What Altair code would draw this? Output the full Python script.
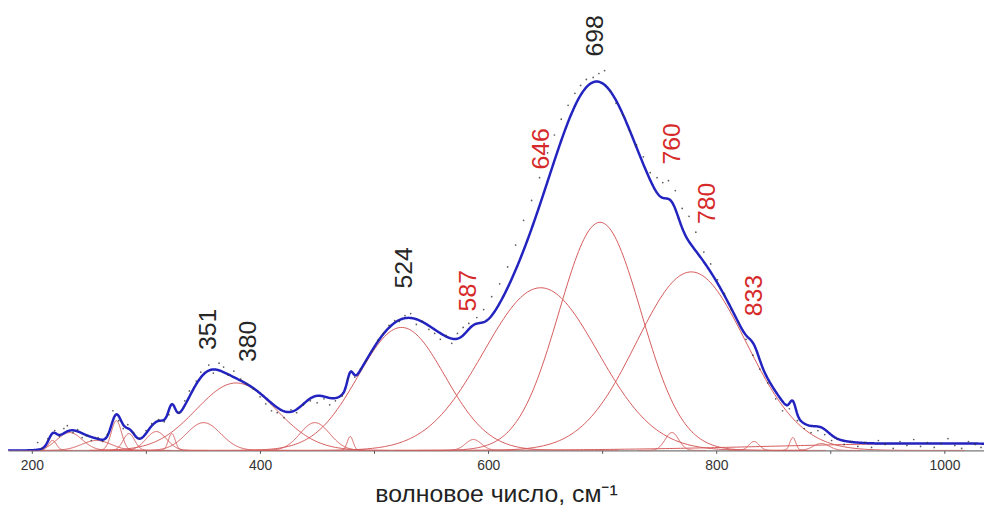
import altair as alt
import numpy as np
import pandas as pd

alt.data_transformers.disable_max_rows()

# ---- fitted components ----
# centre (cm-1), height (intensity units above baseline), gaussian width sigma (cm-1)
peak_centers = [218, 233, 256.5, 274, 285, 309, 322.6, 350.5, 379, 448, 479, 524, 587,
                646, 698, 761, 778, 833, 867, 892, 1000]
peak_heights = [10, 18, 10, 30, 17, 19, 17, 28, 68, 28, 14, 124, 11,
                164, 230, 18, 180, 9, 13, 7, 7]
peak_sigmas = [3.5, 11, 13, 4.5, 5, 9, 3, 15, 35, 13, 2.6, 38, 7,
               50, 36, 6, 48, 4.5, 2.6, 7, 150]

# ---- measured points (black dots) ----
dot_x = [205, 209, 214, 220, 224, 228, 231, 236, 240, 244, 248, 252, 258, 262, 266, 271, 276,
         280, 284, 289, 294, 300, 305, 311, 316, 320, 329, 334, 338, 344, 348, 355, 359, 364,
         368, 372, 377, 383, 388, 394, 400, 405, 410, 415, 421, 427, 432, 438, 444, 450, 456,
         461, 466, 472, 477, 483, 488, 493, 498, 503, 508, 513, 518, 522, 527, 532, 537, 542,
         548, 553, 558, 563, 568, 573, 578, 583, 590, 596, 603, 610, 617, 624, 631, 638, 645,
         652, 658, 664, 670, 676, 681, 686, 692, 697, 702, 707, 712, 718, 724, 730, 736, 742,
         748, 753, 758, 764, 770, 776, 782, 789, 795, 801, 807, 813, 820, 826, 832, 838, 845,
         852, 858, 864, 871, 877, 883, 889, 895, 901, 906, 912, 918, 924, 930, 936, 942, 948,
         955, 961, 967, 973, 979, 985, 991, 997, 1003, 1009, 1015, 1021, 1027, 1032]
dot_y = [8, 2, 12, 20, 14, 22, 25, 18, 21, 13, 15, 10, 13, 9, 16, 40, 30,
         22, 26, 18, 12, 20, 27, 31, 29, 36, 38, 50, 60, 70, 79, 86, 78, 88,
         84, 76, 80, 72, 67, 62, 54, 47, 40, 38, 33, 41, 38, 46, 50, 48, 52,
         46, 50, 55, 72, 74, 82, 90, 100, 111, 118, 126, 131, 130, 136, 138, 127, 130,
         122, 118, 112, 116, 108, 118, 124, 128, 134, 142, 155, 168, 185, 207, 232, 252, 275,
         300, 318, 334, 348, 360, 368, 374, 376, 380, 383, 362, 350, 338, 322, 308, 296, 280,
         275, 270, 272, 262, 244, 236, 220, 200, 188, 172, 158, 142, 128, 112, 96, 82, 68,
         52, 40, 42, 30, 22, 18, 20, 16, 10, 12, 6, 9, 4, 8, 3, 10, 6,
         2, 9, 5, 11, 4, 8, 3, 7, 12, 5, 2, 9, 6, 3]

# ---- peak annotations ----
label_text = ["351", "380", "524", "587", "646", "698", "760", "780", "833"]
label_x = [354.8, 389.6, 526, 582.6, 646, 694, 761, 792, 833]
label_y = [122, 110, 184, 161, 304, 418, 309, 249, 156]
label_color = ["#262626", "#262626", "#262626", "#d62a2a", "#d62a2a",
               "#262626", "#d62a2a", "#d62a2a", "#d62a2a"]

x_ticks = [200, 300, 400, 500, 600, 700, 800, 900, 1000]

XMIN, XMAX = 179, 1034.6
YMAX = 444

# build tables
comp_rows = []
for i, (c, h, s) in enumerate(zip(peak_centers, peak_heights, peak_sigmas)):
    xr = np.linspace(max(XMIN, c - 5 * s), min(XMAX, c + 5 * s), 240)
    yr = h * np.exp(-(xr - c) ** 2 / (2 * s ** 2))
    for a, b in zip(xr, yr):
        comp_rows.append({"x": float(a), "y": float(b), "comp": f"p{i}"})
comp_df = pd.DataFrame(comp_rows)

xs = np.linspace(XMIN, XMAX, 1800)
env = np.zeros_like(xs)
for c, h, s in zip(peak_centers, peak_heights, peak_sigmas):
    env += h * np.exp(-(xs - c) ** 2 / (2 * s ** 2))
env_df = pd.DataFrame({"x": xs, "y": env})

dots_df = pd.DataFrame({"x": dot_x, "y": dot_y})
lab_df = pd.DataFrame({"x": label_x, "y": label_y, "t": label_text, "c": label_color})

FONT = "Liberation Sans, Arial, sans-serif"

xscale = alt.Scale(domain=[XMIN, XMAX], nice=False, zero=False)
yscale = alt.Scale(domain=[0, YMAX], nice=False, zero=False)

xaxis = alt.Axis(
    values=x_ticks,
    format="d",
    labelExpr="datum.value % 200 == 0 ? format(datum.value, 'd') : ''",
    grid=False,
    domainColor="#555555",
    domainWidth=1,
    tickColor="#555555",
    tickSize=3,
    labelFont=FONT,
    labelFontSize=14,
    labelColor="#333333",
    labelPadding=5,
    title="волновое число, см⁻¹",
    titleFont=FONT,
    titleFontSize=25,
    titleFontWeight="normal",
    titleColor="#222222",
    titlePadding=9,
)

comps = alt.Chart(comp_df).mark_line(color="#d45a5a", strokeWidth=1, clip=True).encode(
    x=alt.X("x:Q", scale=xscale, axis=xaxis),
    y=alt.Y("y:Q", scale=yscale, axis=None),
    detail="comp:N",
)

envelope = alt.Chart(env_df).mark_line(color="#2323c0", strokeWidth=2.5, clip=True).encode(
    x=alt.X("x:Q", scale=xscale),
    y=alt.Y("y:Q", scale=yscale),
)

dots = alt.Chart(dots_df).mark_circle(size=3, color="#333333", opacity=0.8).encode(
    x=alt.X("x:Q", scale=xscale),
    y=alt.Y("y:Q", scale=yscale),
)

labels = alt.Chart(lab_df).mark_text(
    angle=270, align="center", baseline="middle", font=FONT, fontSize=25
).encode(
    x=alt.X("x:Q", scale=xscale),
    y=alt.Y("y:Q", scale=yscale),
    text="t:N",
    color=alt.Color("c:N", scale=None),
)

chart = alt.layer(comps, envelope, dots, labels).properties(
    width=984,
    height=444,
    autosize=alt.AutoSizeParams(type="none"),
    padding={"left": 0, "right": 0, "top": 0, "bottom": 56},
    background="white",
).configure_view(stroke=None)

chart.save("out.html", embed_options={"renderer": "svg", "actions": False})
